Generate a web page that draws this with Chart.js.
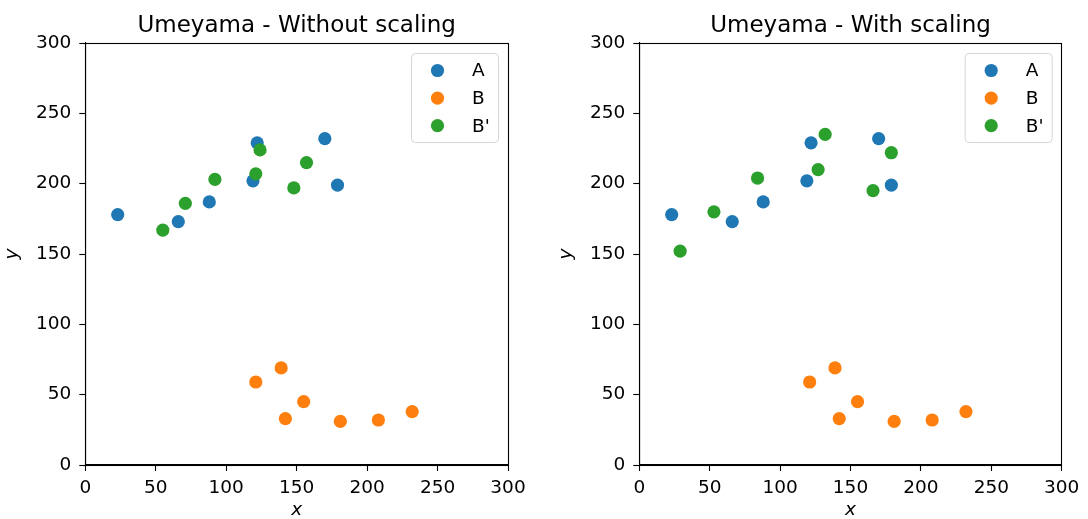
<!DOCTYPE html>
<html>
<head>
<meta charset="utf-8">
<script src="https://cdn.jsdelivr.net/npm/chart.js@4"></script>
<style>
  html, body { margin: 0; padding: 0; background: #fff; overflow: hidden; }
  body { width: 1088px; height: 519px; position: relative; }
  .panel { position: absolute; top: 0; height: 519px; }
  #leftPanel { left: 0; width: 544px; }
  #rightPanel { left: 554px; width: 534px; }
</style>
</head>
<body>
<div class="panel" id="leftPanel"><canvas id="leftChart"></canvas></div>
<div class="panel" id="rightPanel"><canvas id="rightChart"></canvas></div>
<script>
// point sets
const aX = [23, 66, 88, 119, 122, 170, 179];
const aY = [178, 173, 187, 202, 229, 232, 199];
const bX = [121, 139, 142, 155, 181, 208, 232];
const bY = [59, 69, 33, 45, 31, 32, 38];
// B' after Umeyama without / with scaling
const bpNoScaleX = [55, 71, 92, 121, 124, 148, 157];
const bpNoScaleY = [167, 186, 203, 207, 224, 197, 215];
const bpScaleX = [29, 53, 84, 127, 132, 166, 179];
const bpScaleY = [152, 180, 204, 210, 235, 195, 222];

const axisTicks = [0, 50, 100, 150, 200, 250, 300];
const titles = ['Umeyama - Without scaling', 'Umeyama - With scaling'];
const legendLabels = ['A', 'B', "B'"];
const colors = ['#1f77b4', '#ff7f0e', '#2ca02c'];

const FONT = "'DejaVu Sans', sans-serif";
const TICK_SIZE = 18.5;

function toPoints(xs, ys) {
  return xs.map((x, i) => ({ x: x, y: ys[i] }));
}

// full box around the plot area, like matplotlib spines
const framePlugin = {
  id: 'frame',
  afterDraw(chart) {
    const a = chart.chartArea;
    const ctx = chart.ctx;
    ctx.save();
    ctx.strokeStyle = '#000';
    ctx.lineWidth = 1.1;
    ctx.strokeRect(Math.round(a.left) + 0.5, Math.round(a.top) + 0.5,
      Math.round(a.right - a.left), Math.round(a.bottom - a.top));
    ctx.restore();
  }
};

// title centred over the plot area rather than the canvas
const axesTitle = {
  id: 'axesTitle',
  afterDraw(chart, args, opts) {
    const a = chart.chartArea;
    const ctx = chart.ctx;
    ctx.save();
    ctx.font = '23px ' + FONT;
    ctx.fillStyle = '#000';
    ctx.textAlign = 'center';
    ctx.textBaseline = 'alphabetic';
    ctx.fillText(opts.text, (a.left + a.right) / 2, a.top - 11.3);
    ctx.restore();
  }
};

// legend box in the upper right corner of the plot area
const insideLegend = {
  id: 'insideLegend',
  afterDraw(chart) {
    const a = chart.chartArea;
    const ctx = chart.ctx;
    const w = 87, h = 89;
    const left = a.right - 10 - w;
    const top = a.top + 10;
    ctx.save();
    ctx.beginPath();
    ctx.roundRect(left + 0.5, top + 0.5, w, h, 4);
    ctx.fillStyle = 'rgba(255,255,255,0.8)';
    ctx.fill();
    ctx.strokeStyle = '#d6d6d6';
    ctx.lineWidth = 1;
    ctx.stroke();
    ctx.font = TICK_SIZE + 'px ' + FONT;
    ctx.textBaseline = 'middle';
    ctx.textAlign = 'left';
    legendLabels.forEach((label, i) => {
      const y = top + 17.5 + i * 27.6;
      ctx.beginPath();
      ctx.arc(left + 26.5, y, 6.6, 0, Math.PI * 2);
      ctx.fillStyle = colors[i];
      ctx.fill();
      ctx.fillStyle = '#000';
      ctx.fillText(label, left + 61, y + 1);
    });
    ctx.restore();
  }
};

function makeChart(canvasId, title, bpX, bpY, padRight) {
  const ctx = document.getElementById(canvasId).getContext('2d');
  return new Chart(ctx, {
    type: 'scatter',
    data: {
      datasets: [
        { label: legendLabels[0], data: toPoints(aX, aY), backgroundColor: colors[0], order: 2 },
        { label: legendLabels[1], data: toPoints(bX, bY), backgroundColor: colors[1], order: 1 },
        { label: legendLabels[2], data: toPoints(bpX, bpY), backgroundColor: colors[2], order: 0 }
      ]
    },
    options: {
      responsive: true,
      maintainAspectRatio: false,
      animation: false,
      layout: { padding: { top: 43, bottom: 0, left: 0, right: padRight } },
      elements: { point: { radius: 6.6, borderWidth: 0, hoverRadius: 6.6 } },
      plugins: {
        legend: { display: false },
        tooltip: { enabled: false },
        title: { display: false },
        axesTitle: { text: title }
      },
      scales: {
        x: {
          type: 'linear',
          min: 0,
          max: 300,
          afterBuildTicks: s => { s.ticks = axisTicks.map(v => ({ value: v })); },
          afterFit: s => { s.height = 54; },
          grid: { drawOnChartArea: false, drawTicks: true, tickLength: 6, color: '#000', tickWidth: 1.1 },
          border: { display: true, color: '#000', width: 1.1 },
          ticks: { color: '#000', padding: 5.7, maxRotation: 0, font: { family: FONT, size: TICK_SIZE } },
          title: {
            display: true, text: 'x', color: '#000',
            font: { family: FONT, size: TICK_SIZE, style: 'italic', lineHeight: 0.9 },
            padding: { top: 0, bottom: 0 }
          }
        },
        y: {
          type: 'linear',
          min: 0,
          max: 300,
          afterBuildTicks: s => { s.ticks = axisTicks.map(v => ({ value: v })); },
          afterFit: s => { s.width = 85.3; },
          grid: { drawOnChartArea: false, drawTicks: true, tickLength: 6, color: '#000', tickWidth: 1.1 },
          border: { display: true, color: '#000', width: 1.1 },
          ticks: { color: '#000', padding: 8, font: { family: FONT, size: TICK_SIZE } },
          title: {
            display: true, text: 'y', color: '#000',
            font: { family: FONT, size: TICK_SIZE, style: 'italic', lineHeight: 1.2 },
            padding: { top: 0.6, bottom: 0 }
          }
        }
      }
    },
    plugins: [framePlugin, axesTitle, insideLegend]
  });
}

makeChart('leftChart', titles[0], bpNoScaleX, bpNoScaleY, 36);
makeChart('rightChart', titles[1], bpScaleX, bpScaleY, 26.3);
</script>
</body>
</html>
